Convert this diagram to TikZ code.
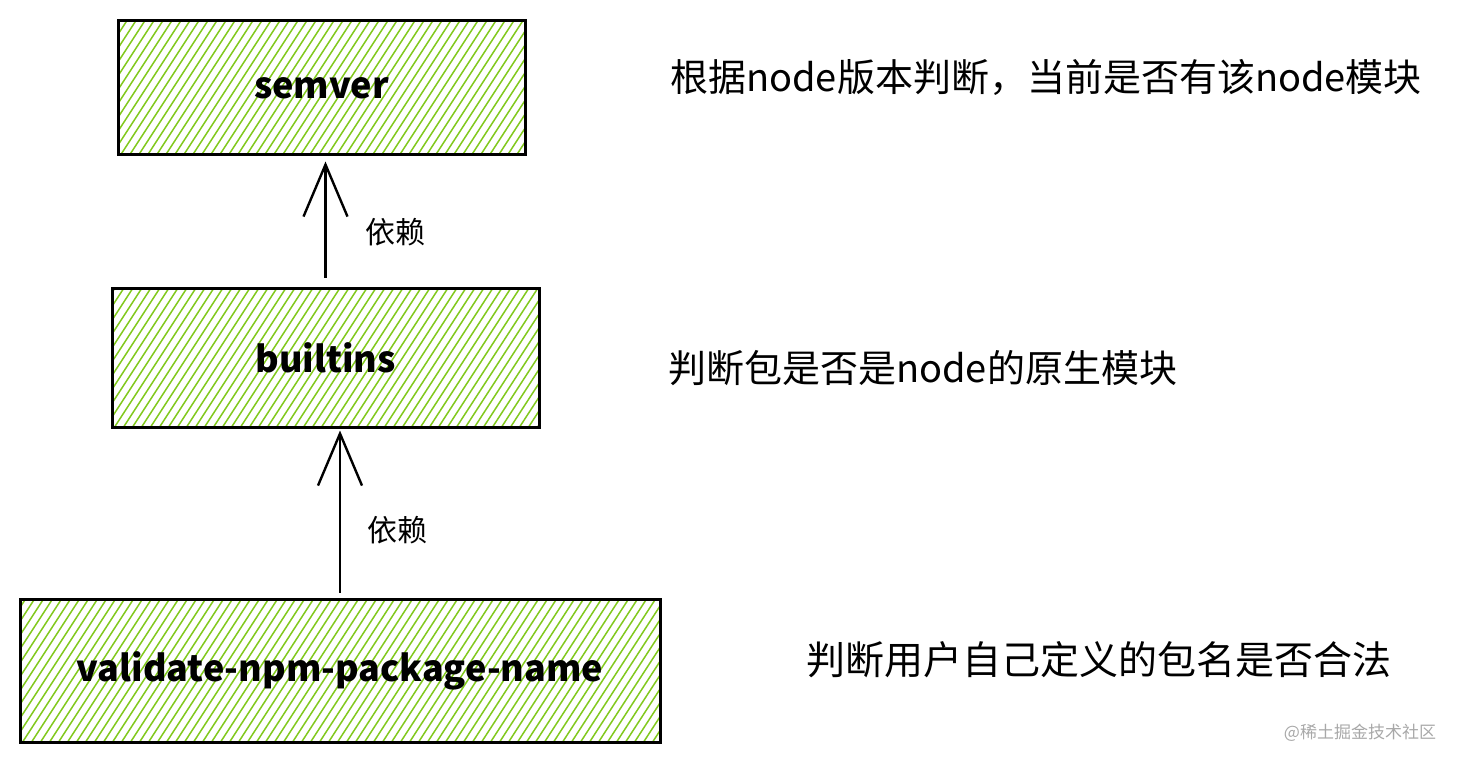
\documentclass[tikz,border=0pt]{standalone}
\usepackage{fontspec}
\setmainfont{Noto Sans CJK SC}
\newfontfamily\cjk{Noto Sans CJK SC}
\usetikzlibrary{arrows.meta,calc}
\definecolor{hachgreen}{HTML}{82C91E}
\definecolor{wmgray}{HTML}{A8A8A8}
\tikzset{
  hachline/.style={draw=hachgreen,line width=1.5pt},
  sketchbox/.style={draw=black,line width=3pt,rectangle,inner sep=0pt,
    font=\cjk\bfseries\fontsize{36}{44}\selectfont,
    path picture={
      \foreach \i in {-18,...,80}{
        \draw[hachline] ($(path picture bounding box.south west)+(\i*9pt,-4pt)$) -- ++(104pt,160pt);
      }
    }},
  desc/.style={font=\cjk\fontsize{38}{44}\selectfont,anchor=west,inner sep=0pt},
  deplabel/.style={font=\cjk\fontsize{30}{36}\selectfont,inner sep=0pt},
  deparrow/.style={line width=2.4pt,-{Straight Barb[length=52pt,width=44pt,line width=2.4pt]}},
  wm/.style={font=\cjk\fontsize{17}{20}\selectfont,text=wmgray,inner sep=0pt}
}
\begin{document}
\begin{tikzpicture}[x=1pt,y=-1pt]
\useasboundingbox (0,0) rectangle (1462,765);
\node[sketchbox,minimum width=407pt,minimum height=134pt] (a) at (321.5,88) {semver};
\node[sketchbox,minimum width=427pt,minimum height=139pt] (b) at (325.5,357.5) {builtins};
\node[sketchbox,minimum width=640pt,minimum height=143pt] (c) at (340,670.5) {validate-npm-package-name};
\draw[deparrow,shorten <=9pt,shorten >=5pt] (b.north) -- (b.north |- a.south);
\draw[deparrow,shorten <=5pt,shorten >=2pt] (c.north) -- (c.north |- b.south);
\node[deplabel] (l1) at (395,232) {依赖};
\node[deplabel] (l2) at (397,530) {依赖};
\node[desc] (d1) at (670,77) {根据node版本判断，当前是否有该node模块};
\node[desc] (d2) at (668,368) {判断包是否是node的原生模块};
\node[desc,font=\cjk\fontsize{39}{44}\selectfont] (d3) at (806,660) {判断用户自己定义的包名是否合法};
\node[wm] (w) at (1360,733) {@稀土掘金技术社区};
\end{tikzpicture}
\end{document}
